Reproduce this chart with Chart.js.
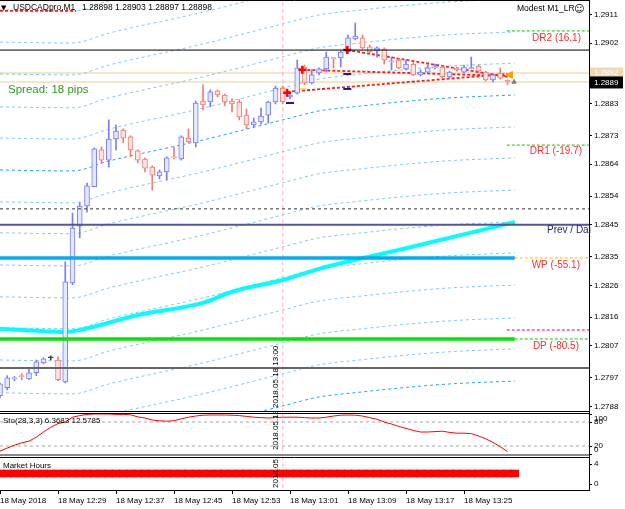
<!DOCTYPE html>
<html>
<head>
<meta charset="utf-8">
<title>USDCADpro,M1</title>
<script src="https://cdn.jsdelivr.net/npm/chart.js@4.4.1/dist/chart.umd.min.js"></script>
<style>
  html, body { margin: 0; padding: 0; background: #fff; }
  #wrap { position: relative; width: 625px; height: 509px; overflow: hidden; }
  canvas { position: absolute; left: 0; }
</style>
</head>
<body>
<div id="wrap">
  <canvas id="mainChart" width="625" height="412" style="top:0px"></canvas>
  <canvas id="stoChart" width="625" height="45" style="top:412px"></canvas>
  <canvas id="hoursChart" width="625" height="52" style="top:457px"></canvas>
</div>
<script>
// time is counted in minutes after 12:00, first bar on screen is 12:21
const firstMinute = 21;
const xMin = 21, xMax = 102.24;
const priceMin = 1.27863, priceMax = 1.29155;

const opens = [1.27914, 1.27939, 1.27967, 1.27975, 1.27967, 1.27986, 1.28017, 1.28033, 1.28026, 1.27957,
  1.28268, 1.28446, 1.28509, 1.28570, 1.28685, 1.28653, 1.28719, 1.28747, 1.28726, 1.28682,
  1.28656, 1.28631, 1.28603, 1.28616, 1.28663, 1.28657, 1.28722, 1.28707, 1.28838, 1.28835,
  1.28870, 1.28857, 1.28838, 1.28835, 1.28794, 1.28763, 1.28773, 1.28794, 1.28835, 1.28879,
  1.28851, 1.28863, 1.28945, 1.28895, 1.28926, 1.28939, 1.28973, 1.28973, 1.28992, 1.29033,
  1.29036, 1.29008, 1.28995, 1.29001, 1.28961, 1.28967, 1.28939, 1.28954, 1.28920, 1.28929,
  1.28942, 1.28945, 1.28914, 1.28942, 1.28929, 1.28940, 1.28948, 1.28929, 1.28904, 1.28926,
  1.28903];
const highs = [1.27954, 1.27977, 1.27974, 1.27983, 1.27998, 1.28026, 1.28033, 1.28039, 1.28036, 1.28334,
  1.28487, 1.28519, 1.28581, 1.28691, 1.28694, 1.28779, 1.28763, 1.28751, 1.28729, 1.28685,
  1.28660, 1.28635, 1.28622, 1.28663, 1.28694, 1.28729, 1.28751, 1.28838, 1.28889, 1.28873,
  1.28873, 1.28860, 1.28845, 1.28842, 1.28813, 1.28785, 1.28816, 1.28838, 1.28885, 1.28885,
  1.28863, 1.28967, 1.28951, 1.28936, 1.28942, 1.28992, 1.28974, 1.28995, 1.29045, 1.29083,
  1.29045, 1.29014, 1.29008, 1.29005, 1.28976, 1.28970, 1.28967, 1.28958, 1.28936, 1.28951,
  1.28954, 1.28948, 1.28932, 1.28945, 1.28951, 1.28976, 1.28951, 1.28932, 1.28923, 1.28942,
  1.28905];
const lows = [1.27907, 1.27932, 1.27961, 1.27964, 1.27964, 1.27977, 1.28014, 1.28026, 1.27961, 1.27954,
  1.28262, 1.28409, 1.28490, 1.28570, 1.28644, 1.28631, 1.28685, 1.28707, 1.28663, 1.28644,
  1.28616, 1.28559, 1.28594, 1.28591, 1.28657, 1.28653, 1.28707, 1.28694, 1.28810, 1.28820,
  1.28851, 1.28823, 1.28804, 1.28779, 1.28751, 1.28757, 1.28766, 1.28769, 1.28829, 1.28829,
  1.28845, 1.28860, 1.28889, 1.28892, 1.28920, 1.28929, 1.28942, 1.28945, 1.28989, 1.29030,
  1.29001, 1.28989, 1.28976, 1.28954, 1.28936, 1.28939, 1.28936, 1.28917, 1.28917, 1.28926,
  1.28939, 1.28910, 1.28910, 1.28932, 1.28926, 1.28939, 1.28929, 1.28901, 1.28898, 1.28907,
  1.28890];
const closes = [1.27951, 1.27970, 1.27968, 1.27974, 1.27986, 1.28020, 1.28030, 1.28033, 1.27964, 1.28271,
  1.28440, 1.28509, 1.28572, 1.28688, 1.28653, 1.28719, 1.28744, 1.28722, 1.28685, 1.28653,
  1.28628, 1.28606, 1.28616, 1.28660, 1.28660, 1.28726, 1.28710, 1.28832, 1.28826, 1.28867,
  1.28857, 1.28835, 1.28829, 1.28788, 1.28763, 1.28773, 1.28791, 1.28835, 1.28879, 1.28835,
  1.28857, 1.28942, 1.28895, 1.28920, 1.28939, 1.28976, 1.28971, 1.28992, 1.29036, 1.29042,
  1.29005, 1.28992, 1.29005, 1.28967, 1.28964, 1.28942, 1.28954, 1.28920, 1.28929, 1.28942,
  1.28943, 1.28914, 1.28929, 1.28936, 1.28945, 1.28942, 1.28932, 1.28904, 1.28920, 1.28910,
  1.28898];

const priceTicks = [1.2911, 1.2902, 1.2892, 1.2883, 1.2873, 1.2864, 1.2854, 1.2845, 1.2835, 1.2826, 1.2816, 1.2807, 1.2797, 1.2788];
const timeTickMinutes = [21, 29, 37, 45, 53, 61, 69, 77, 85];
const timeTickLabels = ["18 May 2018", "18 May 12:29", "18 May 12:37", "18 May 12:45", "18 May 12:53",
  "18 May 13:01", "18 May 13:09", "18 May 13:17", "18 May 13:25"];

// moving average (thick cyan)
const maMinutes = [21, 26, 30, 32, 40, 49, 53, 60, 65, 76, 92];
const maValues = [1.28124, 1.28118, 1.28114, 1.28120, 1.28167, 1.28205, 1.28240, 1.28277, 1.28312, 1.28371, 1.28459];

// regression channel: common bend + level of every band at the left edge
const channelMinutes = [21, 31, 36, 49, 60, 65, 71, 76, 83, 92];
const channelShape = [0, -0.00003, 0.00028, 0.00094, 0.00157, 0.00185, 0.00201, 0.00213, 0.00226, 0.00235];
const channelLevels = [1.29124, 1.29023, 1.28923, 1.28820, 1.28722, 1.28622, 1.28522, 1.28425,
  1.28324, 1.28224, 1.28127, 1.28026, 1.27923, 1.27826, 1.27725];
const brightChannels = [5, 14];

// levels
const blackLevel = 1.28998, dashedLevel = 1.28500, prevDayLevel = 1.28450;
const weekPivot = 1.28346, dayPivot = 1.28092, grayLevel = 1.28001;
const dr2Level = 1.29058, dr1Level = 1.28700, pinkLevel = 1.28120;
const askPrice = 1.28926, bidPrice = 1.28898;
const dateLineMinute = 60;

// EA lines and marks
const eaLineMinutes = [[60.6, 91], [62.7, 91], [68.9, 91], [21, 31.5]];
const eaLinePrices = [[1.28867, 1.28923], [1.28936, 1.28917], [1.28998, 1.28914], [1.29121, 1.29121]];
const arrowMinutes = [60.6, 62.7, 68.9];
const arrowPrices = [1.28864, 1.28936, 1.28998];
const stopMinutes = [61, 68.9, 68.9];
const stopPrices = [1.28832, 1.28923, 1.28876];

// Sto(28,3,3)
const stochMain = [7, 15, 22, 28, 32, 42, 55, 67, 76, 80,
  92, 96, 99, 100, 100, 100, 99, 99, 98, 93,
  90, 85, 83, 82, 83, 88, 92, 95, 97, 97.5,
  97.5, 97.5, 97, 96, 94, 92, 91, 90, 91, 92,
  92, 92, 91, 90, 90, 92, 95, 97, 97.5, 97,
  95, 91, 87, 80, 75, 69, 64, 59, 55, 55,
  56, 57, 54, 52, 52, 51, 45, 38, 29, 18,
  6];
const stochLevels = [80, 20];

// Market Hours band
const hoursBand = [1.4, 2.8];
const hoursLastMinute = 92;

Chart.defaults.font.family = '"Liberation Sans", Arial, sans-serif';
Chart.defaults.font.size = 8;
Chart.defaults.color = '#000';

function flatLine(value, from, to, color, width, dash, order) {
  return {
    type: 'line',
    data: [{ x: from, y: value }, { x: to, y: value }],
    borderColor: color, borderWidth: width, borderDash: dash || [],
    pointRadius: 0, order: order
  };
}

function vLine(lo, hi) {
  return {
    type: 'line',
    data: [{ x: dateLineMinute, y: lo }, { x: dateLineMinute, y: hi }],
    borderColor: '#ffb3c3', borderWidth: 1, borderDash: [4, 3],
    pointRadius: 0, order: 7
  };
}

function fitRightAxis(s) {
  s.width = 36;
  s.paddingTop = 0;
  s.paddingBottom = 0;
}

const baseOptions = {
  responsive: false,
  animation: false,
  events: [],
  layout: { padding: 0, autoPadding: false },
  plugins: { legend: { display: false }, tooltip: { enabled: false } }
};

// ---------- main price panel ----------
const candleMinutes = opens.map((o, i) => firstMinute + i);
const lineColors = opens.map((o, i) => closes[i] > o ? '#7a7aff' : (closes[i] < o ? '#f27b72' : '#404040'));
const fillColors = opens.map((o, i) => closes[i] > o ? '#e1e9ff' : (closes[i] < o ? '#ffe4e1' : '#404040'));

const bodies = candleMinutes.map((m, i) => ({ x: m, y: [Math.min(opens[i], closes[i]), Math.max(opens[i], closes[i])] }));
const wicks = candleMinutes.map((m, i) => ({ x: m, y: [lows[i], highs[i]] }));

const channelSets = channelLevels.map((lvl, k) => ({
  type: 'line',
  data: channelMinutes.map((m, i) => ({ x: m, y: lvl + channelShape[i] })),
  borderColor: brightChannels.includes(k) ? '#1ca6f5' : '#84c9ef',
  borderWidth: 1,
  borderDash: [3, 3],
  cubicInterpolationMode: 'monotone',
  pointRadius: 0,
  order: 6
}));

const eaSets = eaLineMinutes.map((mm, i) => ({
  type: 'line',
  data: [{ x: mm[0], y: eaLinePrices[i][0] }, { x: mm[1], y: eaLinePrices[i][1] }],
  borderColor: '#ff1a1a', borderWidth: 1.8, borderDash: [3, 2],
  pointRadius: 0, order: 3
}));

const mainOverlay = {
  id: 'mainOverlay',
  afterDraw(chart) {
    const { ctx, chartArea: a, scales: { x, y } } = chart;
    ctx.save();
    ctx.strokeStyle = '#000';
    ctx.lineWidth = 1;
    ctx.beginPath();
    ctx.moveTo(a.left, a.top + 0.5); ctx.lineTo(a.right, a.top + 0.5);
    ctx.moveTo(a.left, a.bottom - 0.5); ctx.lineTo(a.right, a.bottom - 0.5);
    ctx.stroke();

    ctx.textBaseline = 'middle';
    ctx.fillStyle = '#000';
    ctx.font = '7px "DejaVu Sans"';
    ctx.fillText('▼', 1, 8);
    ctx.font = '8.5px "Liberation Sans"';
    ctx.fillText('USDCADpro,M1', 13, 8);
    ctx.fillText('1.28898 1.28903 1.28897 1.28898', 82, 8);
    ctx.fillText('Modest M1_LR', 517, 9);
    ctx.font = '10px "DejaVu Sans"';
    ctx.fillText('☺', 574, 9);

    ctx.font = '11.5px "Liberation Sans"';
    ctx.fillStyle = '#2f9a1f';
    ctx.fillText('Spread: 18 pips', 8, 90);

    ctx.font = '10px "Liberation Sans"';
    ctx.fillStyle = '#ff2d2d';
    ctx.textAlign = 'right';
    ctx.fillText('DR2 (16.1)', 581, y.getPixelForValue(dr2Level) + 7);
    ctx.fillText('DR1 (-19.7)', 582, y.getPixelForValue(dr1Level) + 6);
    ctx.fillText('WP (-55.1)', 580, y.getPixelForValue(weekPivot) + 7);
    ctx.fillText('DP (-80.5)', 579, y.getPixelForValue(dayPivot) + 7);
    ctx.textAlign = 'left';
    ctx.fillStyle = '#262680';
    ctx.fillText('Prev / Dai', 547, y.getPixelForValue(prevDayLevel) + 5);

    // label of the vertical time line
    ctx.save();
    ctx.translate(x.getPixelForValue(dateLineMinute) - 3, a.bottom - 4);
    ctx.rotate(-Math.PI / 2);
    ctx.font = '8px "Liberation Sans"';
    ctx.fillStyle = '#000';
    ctx.textBaseline = 'bottom';
    ctx.fillText('2018.05.18 13:00', 0, 0);
    ctx.restore();

    // ask / bid boxes on the price scale
    const ay = y.getPixelForValue(askPrice);
    ctx.fillStyle = '#f1d9ae';
    ctx.fillRect(a.right + 1, ay - 5.5, 33, 11);
    ctx.fillStyle = '#fff';
    ctx.font = '8px "Liberation Sans"';
    ctx.fillText('1.2892', 594, ay);
    const by = y.getPixelForValue(bidPrice);
    ctx.fillStyle = '#000';
    ctx.fillRect(a.right + 1, by - 5.5, 33, 12);
    ctx.fillStyle = '#fff';
    ctx.fillText('1.2889', 594, by + 0.5);
    ctx.restore();
  }
};

new Chart(document.getElementById('mainChart'), {
  type: 'bar',
  data: {
    datasets: [
      flatLine(blackLevel, xMin, xMax, '#000000', 1, [], 0),
      flatLine(dashedLevel, xMin, xMax, '#333333', 1, [3, 3], 0),
      flatLine(prevDayLevel, xMin, xMax, '#55559c', 2, [], 0),
      flatLine(weekPivot, xMin, 92, '#00aeef', 3.5, [], 0),
      flatLine(weekPivot, 92, xMax, '#ffbb00', 1, [3, 2], 0),
      flatLine(dayPivot, xMin, 92, '#00e600', 3.5, [], 0),
      flatLine(dayPivot, 92, xMax, '#00d000', 1, [3, 2], 0),
      flatLine(grayLevel, xMin, xMax, '#666666', 2, [], 0),
      flatLine(pinkLevel, 90.9, xMax, '#ff4fa0', 1.5, [3, 2], 0),
      flatLine(dr2Level, 90.9, xMax, '#00d000', 1, [3, 2], 0),
      flatLine(dr1Level, 90.9, xMax, '#00d000', 1, [3, 2], 0),
      {
        type: 'line', showLine: false,
        data: arrowMinutes.map((m, i) => ({ x: m, y: arrowPrices[i] })),
        pointStyle: 'cross', pointRadius: 4, pointBorderWidth: 2.5, pointBorderColor: '#ff0000', order: 0
      },
      {
        type: 'line', showLine: false,
        data: stopMinutes.map((m, i) => ({ x: m, y: stopPrices[i] })),
        pointStyle: 'line', pointRadius: 4, pointBorderWidth: 2, pointBorderColor: '#1a1aa0', order: 0
      },
      {
        type: 'line', showLine: false,
        data: [{ x: 62.8, y: 1.28876 }],
        pointStyle: 'line', pointRadius: 3, pointBorderWidth: 1.5, pointBorderColor: '#ffd700', order: 0
      },
      {
        type: 'line', showLine: false,
        data: [{ x: 91.4, y: 1.28920 }],
        pointStyle: 'triangle', pointRotation: -90, pointRadius: 4,
        pointBackgroundColor: '#ff9a00', pointBorderColor: '#ff9a00', order: 0
      },
      {
        type: 'line', showLine: false,
        data: [{ x: 91.9, y: 1.28898 }],
        pointStyle: 'triangle', pointRadius: 2.5,
        pointBackgroundColor: '#808080', pointBorderColor: '#808080', order: 0
      },
      {
        type: 'bar', data: bodies, barThickness: 5, borderWidth: 1, borderSkipped: false,
        borderColor: lineColors, backgroundColor: fillColors, minBarLength: 1, grouped: false, order: 1
      },
      {
        type: 'bar', data: wicks, barThickness: 1, borderWidth: 0,
        backgroundColor: lineColors, grouped: false, order: 2
      },
      ...eaSets,
      {
        type: 'line',
        data: maMinutes.map((m, i) => ({ x: m, y: maValues[i] })),
        borderColor: '#00ffff', borderWidth: 4, cubicInterpolationMode: 'monotone',
        pointRadius: 0, order: 4
      },
      ...channelSets,
      flatLine(askPrice, xMin, xMax, '#f3dcb4', 1.5, [], 8),
      flatLine(bidPrice, xMin, xMax, '#f3dcb4', 1.5, [], 8),
      vLine(priceMin, priceMax)
    ]
  },
  options: {
    ...baseOptions,
    scales: {
      x: { type: 'linear', display: false, min: xMin, max: xMax, offset: false, grid: { offset: false } },
      y: {
        type: 'linear', position: 'right', min: priceMin, max: priceMax, beginAtZero: false,
        afterBuildTicks: s => { s.ticks = priceTicks.map(v => ({ value: v })); },
        afterFit: fitRightAxis,
        ticks: { callback: v => v.toFixed(4), color: '#000', font: { size: 8 }, padding: 2, autoSkip: false },
        grid: { drawOnChartArea: false, tickLength: 3, color: '#000' },
        border: { color: '#000' }
      }
    }
  },
  plugins: [mainOverlay]
});

// ---------- stochastic panel ----------
const stoOverlay = {
  id: 'stoOverlay',
  afterDraw(chart) {
    const { ctx, chartArea: a, scales: { x, y } } = chart;
    ctx.save();
    ctx.strokeStyle = '#000';
    ctx.lineWidth = 1;
    ctx.beginPath();
    ctx.moveTo(a.left, a.top + 1.5); ctx.lineTo(a.right, a.top + 1.5);
    ctx.stroke();
    ctx.strokeStyle = '#8a8a8a';
    ctx.lineWidth = 2;
    ctx.beginPath();
    ctx.moveTo(a.left, a.bottom - 2); ctx.lineTo(a.right, a.bottom - 2);
    ctx.stroke();

    ctx.font = '8px "Liberation Sans"';
    ctx.fillStyle = '#000';
    ctx.textBaseline = 'middle';
    ctx.fillText('Sto(28,3,3) 6.3683 12.5785', 3, 9);

    // scale labels
    const marks = [[100, 4.7], [80, 0], [20, 0], [0, -4]];
    ctx.strokeStyle = '#000';
    ctx.lineWidth = 1;
    marks.forEach(([v, off]) => {
      const py = y.getPixelForValue(v);
      ctx.beginPath();
      ctx.moveTo(a.right, Math.round(py) + 0.5); ctx.lineTo(a.right + 3, Math.round(py) + 0.5);
      ctx.stroke();
      ctx.fillText(String(v), 594, py + off);
    });

    ctx.beginPath();
    ctx.rect(a.left, a.top, a.right - a.left, a.bottom - a.top);
    ctx.clip();
    ctx.translate(x.getPixelForValue(dateLineMinute) - 3, 38);
    ctx.rotate(-Math.PI / 2);
    ctx.textBaseline = 'bottom';
    ctx.fillText('2018.05.18 13:00', 0, 0);
    ctx.restore();
  }
};

new Chart(document.getElementById('stoChart'), {
  type: 'line',
  data: {
    datasets: [
      {
        data: candleMinutes.map((m, i) => ({ x: m, y: stochMain[i] })),
        borderColor: '#ff0000', borderWidth: 1, pointRadius: 0, order: 0
      },
      ...stochLevels.map(v => flatLine(v, xMin, xMax, '#a8a8a8', 1, [3, 3], 5)),
      vLine(-10, 110)
    ]
  },
  options: {
    ...baseOptions,
    scales: {
      x: { type: 'linear', display: false, min: xMin, max: xMax, offset: false },
      y: {
        type: 'linear', position: 'right', min: -7.5, max: 105,
        afterFit: fitRightAxis,
        ticks: { display: false },
        grid: { display: false },
        border: { color: '#000' }
      }
    }
  },
  plugins: [stoOverlay]
});

// ---------- market hours panel + time axis ----------
const hourBars = [];
for (let m = firstMinute; m <= hoursLastMinute; m++) {
  hourBars.push({ x: m, y: hoursBand });
}

const hoursOverlay = {
  id: 'hoursOverlay',
  afterDraw(chart) {
    const { ctx, chartArea: a, scales: { x, y } } = chart;
    ctx.save();
    ctx.strokeStyle = '#000';
    ctx.lineWidth = 1;
    ctx.beginPath();
    ctx.moveTo(a.left, a.top + 0.5); ctx.lineTo(a.right, a.top + 0.5);
    ctx.stroke();

    ctx.font = '8px "Liberation Sans"';
    ctx.fillStyle = '#000';
    ctx.textBaseline = 'middle';
    ctx.fillText('Market Hours', 3, 9);
    [4, 0].forEach(v => {
      const py = y.getPixelForValue(v);
      ctx.beginPath();
      ctx.moveTo(a.right, Math.round(py) + 0.5); ctx.lineTo(a.right + 3, Math.round(py) + 0.5);
      ctx.stroke();
      ctx.fillText(String(v), 594, py);
    });

    ctx.beginPath();
    ctx.rect(a.left, a.top, a.right - a.left, a.bottom - a.top);
    ctx.clip();
    ctx.translate(x.getPixelForValue(dateLineMinute) - 3, 31);
    ctx.rotate(-Math.PI / 2);
    ctx.textBaseline = 'bottom';
    ctx.fillText('2018.05.18 13:00', 0, 0);
    ctx.restore();
  }
};

new Chart(document.getElementById('hoursChart'), {
  type: 'bar',
  data: {
    datasets: [
      {
        data: hourBars, barThickness: 8, borderWidth: 0,
        backgroundColor: '#ff0000', grouped: false, order: 1
      },
      vLine(-5, 10)
    ]
  },
  options: {
    ...baseOptions,
    scales: {
      x: {
        type: 'linear', min: xMin, max: xMax, offset: false, position: 'bottom',
        afterBuildTicks: s => { s.ticks = timeTickMinutes.map(v => ({ value: v })); },
        afterFit: s => { s.height = 19; s.paddingLeft = 0; s.paddingRight = 0; },
        ticks: {
          callback: (v, i) => timeTickLabels[i], align: 'start', maxRotation: 0, minRotation: 0,
          autoSkip: false, color: '#000', font: { size: 8 }, padding: 2
        },
        grid: { drawOnChartArea: false, offset: false, tickLength: 4, color: '#000' },
        border: { color: '#000' }
      },
      y: {
        type: 'linear', position: 'right', min: -1.2, max: 5.4, beginAtZero: false,
        afterFit: fitRightAxis,
        ticks: { display: false },
        grid: { display: false },
        border: { color: '#000' }
      }
    }
  },
  plugins: [hoursOverlay]
});
</script>
</body>
</html>
